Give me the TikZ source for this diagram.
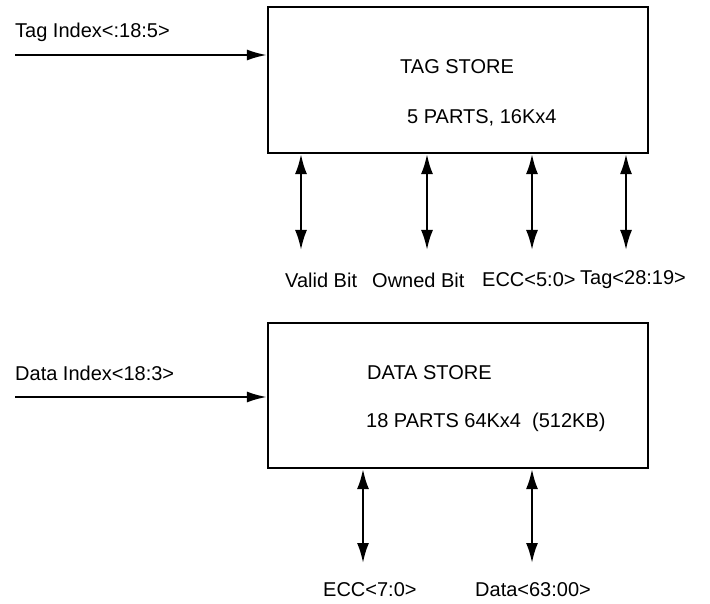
\documentclass[tikz,border=0pt]{standalone}
\usepackage{fontspec}
\setmainfont{Liberation Sans}
\usetikzlibrary{arrows.meta}
\begin{document}
\begin{tikzpicture}[x=1pt,y=-1pt,
  store/.style={draw,line width=2.2pt,inner sep=0pt},
  lbl/.style={anchor=west,inner sep=0pt,font=\fontsize{20}{24}\selectfont},
  bus/.style={line width=2.2pt,{Latex[length=20pt,width=12pt]}-{Latex[length=20pt,width=12pt]}},
  inarrow/.style={line width=2.2pt,-{Latex[length=20pt,width=11pt]}}]
\useasboundingbox (0,0) rectangle (710,604);
% boxes
\node[store,minimum width=380pt,minimum height=146pt] (tag) at (458,80) {};
\node[store,minimum width=380pt,minimum height=145pt] (data) at (458,395.5) {};
% texts inside
\node[lbl] (tagt) at (400,67) {TAG STORE};
\node[lbl] (tagp) at (407,118) {5 PARTS, 16Kx4};
\node[lbl] (datat) at (367,373) {DATA STORE};
\node[lbl] (datap) at (366,422) {18 PARTS 64Kx4\ \ (512KB)};
% index inputs
\node[lbl] (tagidx) at (15,32) {Tag Index<:18:5>};
\node[lbl] (dataidx) at (15,373) {Data Index<18:3>};
\coordinate (tagin) at (15,55);
\coordinate (datain) at (15,397);
\draw[inarrow] (tagin) -- (tagin -| tag.west);
\draw[inarrow] (datain) -- (datain -| data.west);
% tag store buses
\coordinate (v) at (301,250);
\coordinate (o) at (427,250);
\coordinate (e) at (532,250);
\coordinate (t) at (626,250);
\draw[bus] (v |- tag.south) -- (v);
\draw[bus] (o |- tag.south) -- (o);
\draw[bus] (e |- tag.south) -- (e);
\draw[bus] (t |- tag.south) -- (t);
\node[lbl] (vl) at (285,280) {Valid Bit};
\node[lbl] (ol) at (372,280) {Owned Bit};
\node[lbl] (el) at (482,280) {ECC<5:0>};
\node[lbl] (tl) at (580,280) {Tag<28:19>};
% data store buses
\coordinate (de) at (363,563);
\coordinate (dd) at (532,563);
\draw[bus] (de |- data.south) -- (de);
\draw[bus] (dd |- data.south) -- (dd);
\node[lbl] (del) at (323,590) {ECC<7:0>};
\node[lbl] (ddl) at (475,590) {Data<63:00>};
\end{tikzpicture}
\end{document}
